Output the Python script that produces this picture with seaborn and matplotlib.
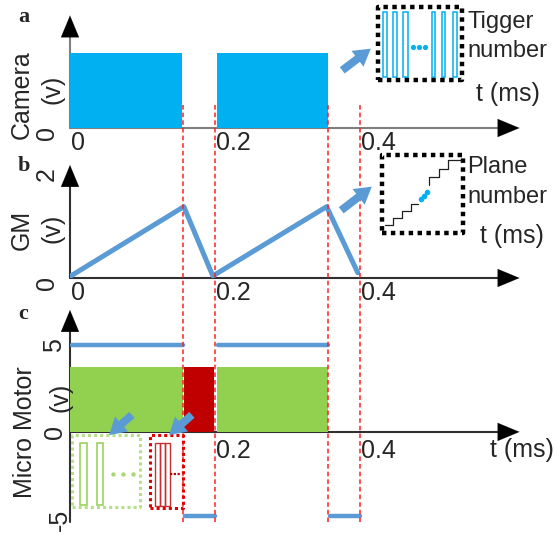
import matplotlib
matplotlib.use("Agg")
import matplotlib.pyplot as plt
from matplotlib.patches import Rectangle, FancyArrowPatch
from matplotlib.transforms import blended_transform_factory
import seaborn as sns

# ---- time axis (ms) ----
x_ticks = [0, 0.2, 0.4]
x_tick_labels = ["0", "0.2", "0.4"]
guide_times = [0.156, 0.2, 0.356, 0.4]      # red dashed guides

# ---- a) camera exposure ----
camera_on = [(0.0, 0.155), (0.203, 0.356)]
camera_level = 1.0

# ---- b) galvo mirror ramp ----
gm_t = [0.0, 0.157, 0.197, 0.354, 0.397]
gm_v = [0.03, 1.37, 0.04, 1.37, 0.10]

# ---- c) micro motor ----
motor_green = [(0.0, 0.156), (0.203, 0.356)]
motor_red = [(0.157, 0.198)]
motor_level = 3.75
drive_high = [(0.003, 0.156), (0.204, 0.356)]
drive_low = [(0.158, 0.200), (0.358, 0.400)]
drive_high_v = 5
drive_low_v = -4.8

# ---- inset sketches (inset-relative units 0..1) ----
trig_pulses = [(0.06, 0.11), (0.18, 0.23), (0.30, 0.36), (0.64, 0.68), (0.76, 0.80), (0.89, 0.94)]
trig_dots_x = [0.42, 0.49, 0.56]
stair_lo_x = [0.04, 0.14, 0.14, 0.25, 0.25, 0.36, 0.36, 0.44]
stair_lo_y = [0.10, 0.10, 0.19, 0.19, 0.28, 0.28, 0.37, 0.37]
stair_hi_x = [0.58, 0.58, 0.70, 0.70, 0.82, 0.82, 0.97]
stair_hi_y = [0.62, 0.72, 0.72, 0.82, 0.82, 0.93, 0.93]
stair_dots_x = [0.48, 0.52, 0.56]
stair_dots_y = [0.43, 0.48, 0.53]
green_pulses = [(0.12, 0.22), (0.37, 0.46)]
green_dots_x = [0.60, 0.75, 0.90]
red_pulses = [(0.15, 0.30), (0.30, 0.45), (0.45, 0.60)]

CAM = "#00B0F0"
LINE = "#5B9BD5"
GREEN = "#92D050"
RED = "#C00000"

sns.set_theme(style="white")
plt.rcParams["font.family"] = ["Liberation Sans", "DejaVu Sans"]

W, H = 555, 535
T_MAX = 0.62
fig = plt.figure(figsize=(W / 100, H / 100), dpi=100)

HEAD = dict(arrowstyle="-|>,head_length=1.2,head_width=0.5", color="black",
            lw=0.1, mutation_scale=13, shrinkA=0, shrinkB=0)


def rect(x0, y0, x1, y1):
    return [x0 / W, 1 - y1 / H, (x1 - x0) / W, (y1 - y0) / H]


def ftext(px, py, s, **kw):
    fig.text(px / W, 1 - py / H, s, **kw)


def frame(ax, ybot, ytop, color, yline_bot=None):
    ax.set_xlim(0, T_MAX)
    ax.axis("off")
    span = ytop - ybot
    ax.plot([0, T_MAX - 0.02], [0, 0], color=color, lw=1.5, clip_on=False, zorder=1)
    ax.plot([0, 0], [ybot if yline_bot is None else yline_bot, ytop - 0.06 * span],
            color=color, lw=1.5, clip_on=False, zorder=1)
    ax.annotate("", xy=(T_MAX, 0), xytext=(T_MAX - 0.03, 0), arrowprops=HEAD)
    ax.annotate("", xy=(0, ytop), xytext=(0, ytop - 0.1 * span), arrowprops=HEAD)


def xtick_labels(ax, dy, skip_zero=False):
    for t, lab in zip(x_ticks, x_tick_labels):
        if skip_zero and t == 0:
            continue
        ax.annotate(lab, xy=(t, 0), xytext=(1, dy), textcoords="offset pixels",
                    ha="left", va="top", fontsize=18)


def ytick(ax, val, lab, dx, dy):
    ax.annotate(lab, xy=(0, val), xytext=(dx, dy), textcoords="offset pixels",
                ha="center", va="center", rotation=90, fontsize=18)


# ---------------- panel a ----------------
ax_a = fig.add_axes(rect(70, 15.5, 70 + T_MAX * 725, 128))
ax_a.set_ylim(0, 1.5)
for s, e in camera_on:
    ax_a.bar(s, camera_level, width=e - s, align="edge", color=CAM, lw=0, zorder=3)
frame(ax_a, 0, 1.5, "#7F7F7F")
xtick_labels(ax_a, -3)
ytick(ax_a, 0, "0", -23, -5)
ax_a.annotate("t (ms)", xy=(T_MAX, 0), xytext=(-12, 34), textcoords="offset pixels",
              ha="center", va="center", fontsize=18)

# ---------------- panel b ----------------
ax_b = fig.add_axes(rect(70, 165, 70 + T_MAX * 725, 278))
ax_b.set_ylim(0, 2.17)
sns.lineplot(x=gm_t, y=gm_v, ax=ax_b, color=LINE, lw=3.6, zorder=3,
             sort=False, estimator=None)
frame(ax_b, 0, 2.17, "#303030")
xtick_labels(ax_b, -3)
ytick(ax_b, 0, "0", -23, -5)
ytick(ax_b, 2, "2", -23, 0)
ax_b.annotate("t (ms)", xy=(T_MAX, 0), xytext=(-8, 42), textcoords="offset pixels",
              ha="center", va="center", fontsize=18)

# ---------------- panel c ----------------
ax_c = fig.add_axes(rect(70, 310, 70 + T_MAX * 725, 519))
ax_c.set_ylim(-5, 7)
for s, e in motor_green:
    ax_c.bar(s, motor_level, width=e - s, align="edge", color=GREEN, lw=0, zorder=3)
for s, e in motor_red:
    ax_c.bar(s, motor_level, width=e - s, align="edge", color=RED, lw=0, zorder=3)
for s, e in drive_high:
    sns.lineplot(x=[s, e], y=[drive_high_v, drive_high_v], ax=ax_c, color=LINE,
                 lw=3.2, zorder=3)
for s, e in drive_low:
    sns.lineplot(x=[s, e], y=[drive_low_v, drive_low_v], ax=ax_c, color=LINE,
                 lw=3.2, zorder=3)
frame(ax_c, -5, 7, "#303030", yline_bot=-5.2)
ax_c.set_ylim(-5, 7)
xtick_labels(ax_c, -7, skip_zero=True)
ytick(ax_c, 5, "5", -16, 0)
ytick(ax_c, 0, "0", -15, 0)
ytick(ax_c, -5, "-5", -10, -1)
ax_c.annotate("t (ms)", xy=(T_MAX, 0), xytext=(2, -18), textcoords="offset pixels",
              ha="center", va="center", fontsize=18)

# red dashed guides across the three panels
blend = blended_transform_factory(ax_c.transData, fig.transFigure)
for t in guide_times:
    ax_c.plot([t, t], [1 - 105 / H, 1 - 522 / H], transform=blend, color="#FF2020",
              lw=1.1, ls=(0, (3, 2)), clip_on=False, zorder=5)

# axis titles and panel letters
ftext(22, 95, "Camera", rotation=90, ha="center", va="center", fontsize=18)
ftext(53, 89, "(v)", rotation=90, ha="center", va="center", fontsize=18)
ftext(22, 230, "GM", rotation=90, ha="center", va="center", fontsize=18)
ftext(53, 228, "(v)", rotation=90, ha="center", va="center", fontsize=18)
ftext(25, 432, "Micro Motor", rotation=90, ha="center", va="center", fontsize=18)
ftext(61, 397, "(v)", rotation=90, ha="center", va="center", fontsize=18)
for px, py, s in [(24, 17, "a"), (24, 166, "b"), (23, 314, "c")]:
    ftext(px, py, s, ha="center", va="center", fontsize=16, fontweight="bold",
          family="Liberation Serif")


def dotted_box(ax, color, lw):
    ax.set_xlim(0, 1)
    ax.set_ylim(0, 1)
    ax.axis("off")
    ax.plot([0, 1, 1, 0, 0], [0, 0, 1, 1, 0], color=color, lw=lw,
            ls=(0, (1, 1)), dash_capstyle="butt", clip_on=False)


# inset a : trigger pulses
ia = fig.add_axes(rect(378, 7, 462, 80))
dotted_box(ia, "black", 3.2)
for s, e in trig_pulses:
    ia.add_patch(Rectangle((s, 0.04), e - s, 0.89, fill=False, ec=CAM, lw=1.1))
ia.scatter(trig_dots_x, [0.45] * 3, s=14, color=CAM, lw=0)
ftext(467, 22, "Tigger", ha="left", va="center", fontsize=17)
ftext(467, 51, "number", ha="left", va="center", fontsize=17)

# inset b : plane staircase
ib = fig.add_axes(rect(382, 155, 463, 233))
dotted_box(ib, "black", 3.2)
ib.plot(stair_lo_x, stair_lo_y, color="#202020", lw=0.9)
ib.plot(stair_hi_x, stair_hi_y, color="#202020", lw=0.9)
ib.scatter(stair_dots_x, stair_dots_y, s=16, color=CAM, lw=0)
ftext(467, 167, "Plane", ha="left", va="center", fontsize=17)
ftext(467, 197, "number", ha="left", va="center", fontsize=17)

# inset c : green pulses and red pulses
ig = fig.add_axes(rect(72, 435, 140, 507))
dotted_box(ig, "#B5E08A", 2.2)
for s, e in green_pulses:
    ig.add_patch(Rectangle((s, 0.03), e - s, 0.86, fill=False, ec=GREEN, lw=1.1))
ig.scatter(green_dots_x, [0.46] * 3, s=10, color="#A8D878", lw=0)

ir = fig.add_axes(rect(150, 435, 183, 508))
dotted_box(ir, "#E00000", 2.2)
for s, e in red_pulses:
    ir.add_patch(Rectangle((s, 0.03), e - s, 0.86, fill=False, ec="#C83030", lw=1.0))
ir.plot([0.60, 0.90], [0.46, 0.46], color="#C00000", lw=1.6, ls=(0, (1, 0.7)))

# fat blue pointer arrows
for (x0, y0), (x1, y1) in [((340, 72), (373, 47)), ((339, 212), (374, 185)),
                           ((134, 413), (107, 437)), ((194, 413), (167, 437))]:
    fig.add_artist(FancyArrowPatch(
        (x0 / W, 1 - y0 / H), (x1 / W, 1 - y1 / H), transform=fig.transFigure,
        arrowstyle="simple,head_length=0.8,head_width=0.95,tail_width=0.38",
        mutation_scale=15, color=LINE, lw=0))

fig.savefig("out.png", dpi=100)
